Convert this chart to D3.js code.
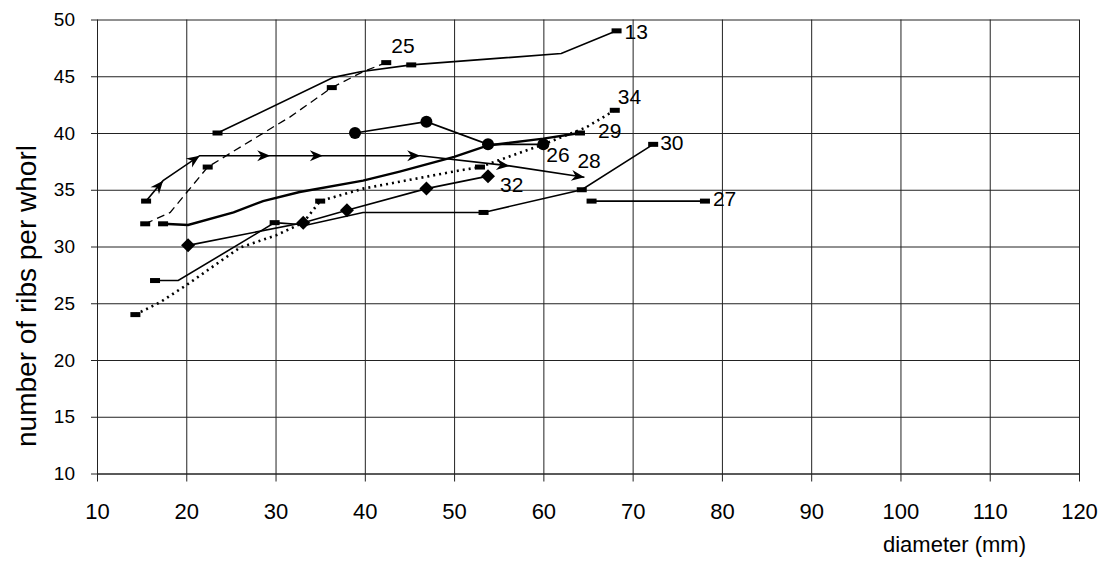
<!DOCTYPE html>
<html>
<head>
<meta charset="utf-8">
<script src="https://cdn.jsdelivr.net/npm/d3@7"></script>
<style>
body { margin: 0; background: #fff; }
text { font-family: "Liberation Sans", Arial, sans-serif; fill: #000; }
</style>
</head>
<body>
<svg id="chart" width="1111" height="563"></svg>
<script>
// axis ticks
var xTicks = [10, 20, 30, 40, 50, 60, 70, 80, 90, 100, 110, 120];
var yTicks = [10, 15, 20, 25, 30, 35, 40, 45, 50];

// each series: the drawn line, then the measured points that carry a marker
var s13 = [[23.5, 40], [36.5, 44.9], [39.5, 45.4], [45.2, 46], [62, 47], [68.2, 49]];
var s13Obs = [[23.5, 40], [45.2, 46], [68.2, 49]];
var s25 = [[15.4, 32], [18.2, 33], [22.4, 37], [30.1, 40.7], [31.6, 41.4], [36.3, 44], [39.8, 45.4], [42.4, 46.2]];
var s25Obs = [[15.4, 32], [22.4, 37], [36.3, 44], [42.4, 46.2]];
var s26 = [[38.9, 40], [46.9, 41], [53.8, 39], [60, 39]];
var s27 = [[65.4, 34], [78.1, 34]];
var s28 = [[15.5, 34], [17.4, 35.8], [21.5, 38], [29.4, 38], [35.3, 38], [46.2, 38], [56.2, 37.1], [64.6, 36.1]];
var s29 = [[17.4, 32], [20.2, 31.9], [25.3, 33], [28.6, 34], [32.7, 34.8], [39.8, 35.8], [43.9, 36.6], [50, 37.9], [53.8, 38.9], [60, 39.5], [64.1, 40]];
var s29Obs = [[17.4, 32], [64.1, 40]];
var s30 = [[16.5, 27], [19.1, 27], [29.9, 32.1], [33.5, 31.9], [39.8, 33], [53.3, 33], [64.3, 35], [72.3, 39]];
var s30Obs = [[16.5, 27], [29.9, 32.1], [53.3, 33], [64.3, 35], [72.3, 39]];
var s32 = [[20.2, 30.1], [33.1, 32.1], [38, 33.2], [46.9, 35.1], [53.8, 36.2]];
var s34 = [[14.3, 24], [17.1, 25.1], [20.2, 26.7], [26, 29.9], [30.1, 31], [33.1, 32.1], [35, 34], [39.8, 35.1], [50.6, 36.7], [52.9, 37], [60, 39], [64.8, 40.5], [68, 42]];
var s34Obs = [[14.3, 24], [35, 34], [52.9, 37], [68, 42]];

function makeChart(id) {
    var svg = d3.select("#" + id);
    var pLeft = 97, pRight = 1079, pTop = 19.5, pBottom = 473.5;
    var x = d3.scaleLinear().domain([10, 120]).range([pLeft, pRight]);
    var y = d3.scaleLinear().domain([10, 50]).range([pBottom, pTop]);

    // grid + axes
    var xAxis = svg.append('g')
        .attr('transform', "translate(0," + pBottom + ")")
        .call(d3.axisBottom(x).tickValues(xTicks).tickSizeInner(-(pBottom - pTop)).tickSizeOuter(0).tickPadding(30));
    var yAxis = svg.append('g')
        .attr('transform', "translate(" + pLeft + ",0)")
        .call(d3.axisLeft(y).tickValues(yTicks).tickSizeInner(-(pRight - pLeft)).tickSizeOuter(0).tickPadding(22));
    xAxis.selectAll('.tick line').attr('y1', 8);
    yAxis.selectAll('.tick line').attr('x1', -6);
    svg.selectAll('.tick line').attr('stroke', '#222').attr('stroke-width', 1);
    svg.selectAll('.domain').attr('stroke', '#222');
    xAxis.selectAll('text').attr('font-size', 22).attr('fill', '#000');
    yAxis.selectAll('text').attr('font-size', 19).attr('fill', '#000');

    svg.append('text')
        .attr('transform', "translate(1026,552)")
        .attr('text-anchor', 'end')
        .attr('font-size', 22)
        .text("diameter (mm)");
    svg.append('text')
        .attr('transform', "translate(36,296) rotate(-90)")
        .attr('text-anchor', 'middle')
        .attr('font-size', 28)
        .text("number of ribs per whorl");

    var line = d3.line().x(function(d) { return x(d[0]); }).y(function(d) { return y(d[1]); });
    var plot = svg.append('g');

    function drawLine(data, width, dash) {
        plot.append('path')
            .attr('d', line(data))
            .attr('fill', 'none')
            .attr('stroke', '#000')
            .attr('stroke-width', width)
            .attr('stroke-dasharray', dash || null);
    }
    function drawRects(data) {
        plot.selectAll(null).data(data).enter().append('rect')
            .attr('x', function(d) { return x(d[0]) - 5; })
            .attr('y', function(d) { return y(d[1]) - 2.5; })
            .attr('width', 10).attr('height', 5)
            .attr('fill', '#000');
    }
    function drawCircles(data) {
        plot.selectAll(null).data(data).enter().append('circle')
            .attr('cx', function(d) { return x(d[0]); })
            .attr('cy', function(d) { return y(d[1]); })
            .attr('r', 6).attr('fill', '#000');
    }
    function drawDiamonds(data) {
        plot.selectAll(null).data(data).enter().append('path')
            .attr('d', "M0,-7L7,0L0,7L-7,0Z")
            .attr('transform', function(d) { return "translate(" + x(d[0]) + "," + y(d[1]) + ")"; })
            .attr('fill', '#000');
    }
    function drawArrows(data) {
        // arrow head at every point after the first, pointing along the incoming segment
        for (var i = 1; i < data.length; i++) {
            var a = data[i - 1], b = data[i];
            var ang = Math.atan2(y(b[1]) - y(a[1]), x(b[0]) - x(a[0])) * 180 / Math.PI;
            plot.append('path')
                .attr('d', "M0,0L-13,-5.5L-9,0L-13,5.5Z")
                .attr('transform', "translate(" + x(b[0]) + "," + y(b[1]) + ") rotate(" + ang + ")")
                .attr('fill', '#000');
        }
    }

    drawLine(s13, 1.6);
    drawRects(s13Obs);
    drawLine(s25, 1.3, "8,5");
    drawRects(s25Obs);
    drawLine(s26, 1.6);
    drawCircles(s26);
    drawLine(s27, 1.6);
    drawRects(s27);
    drawLine(s28, 1.6);
    drawRects([s28[0]]);
    drawArrows(s28);
    drawLine(s29, 2.4);
    drawRects(s29Obs);
    drawLine(s30, 1.6);
    drawRects(s30Obs);
    drawLine(s32, 1.6);
    drawDiamonds(s32);
    drawLine(s34, 2.6, "2,4");
    drawRects(s34Obs);

    // series names at the end of each line
    var labels = [
        {name: "13", at: s13[s13.length - 1], dx: 8, dy: 1},
        {name: "25", at: s25[s25.length - 1], dx: 5, dy: -17},
        {name: "34", at: s34[s34.length - 1], dx: 3, dy: -14},
        {name: "29", at: s29[s29.length - 1], dx: 18, dy: -3},
        {name: "30", at: s30[s30.length - 1], dx: 7, dy: -2},
        {name: "26", at: s26[s26.length - 1], dx: 3, dy: 10},
        {name: "28", at: s28[s28.length - 1], dx: -7, dy: -17},
        {name: "32", at: s32[s32.length - 1], dx: 12, dy: 8},
        {name: "27", at: s27[s27.length - 1], dx: 8, dy: -3}
    ];
    svg.selectAll(null).data(labels).enter().append('text')
        .attr('x', function(d) { return x(d.at[0]) + d.dx; })
        .attr('y', function(d) { return y(d.at[1]) + d.dy; })
        .attr('dy', '0.36em')
        .attr('font-size', 21)
        .text(function(d) { return d.name; });
}

makeChart('chart');
</script>
</body>
</html>
